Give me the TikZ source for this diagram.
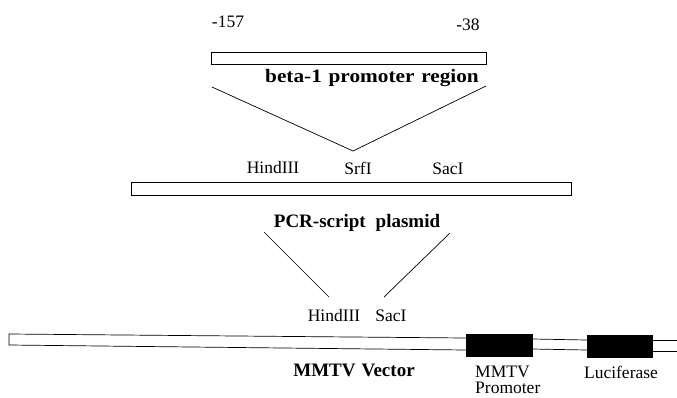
\documentclass[tikz,border=0pt]{standalone}
\usepackage{graphicx}
\usepackage{fontspec}
\setmainfont{Liberation Serif}
\begin{document}
\begin{tikzpicture}[x=1pt,y=-1pt,
  lab/.style={inner sep=0pt, font=\fontsize{17.5}{19}\selectfont},
  blab/.style={inner sep=0pt, font=\fontsize{19}{21}\selectfont\bfseries},
  openbar/.style={draw, line width=0.8pt, fill=white},
  gene/.style={draw, fill=black},
  ln/.style={line width=0.7pt}]
\useasboundingbox (0,0) rectangle (677,397);

% beta-1 promoter fragment
\node[lab] (m157) at (228,22) {-157};
\node[lab] (m38) at (468,25) {-38};
\node[openbar, minimum width=275pt, minimum height=12pt, inner sep=0pt] (frag) at (349,58) {};
\node[blab] (fraglab) at (372,78) {\scalebox{1.12}[1]{beta-1\hspace{6pt}promoter\hspace{6pt}region}};
\coordinate (fl) at (212,87);
\coordinate (fr) at (486,86);
\coordinate (fv) at (353,151);
\draw[ln] (fl) -- (fv) -- (fr);

% PCR-script plasmid
\node[lab] (hind1) at (273,168) {HindIII};
\node[lab] (srf) at (358,168) {SrfI};
\node[lab] (sac1) at (448,169) {SacI};
\node[openbar, minimum width=440pt, minimum height=13pt, inner sep=0pt] (pcr) at (351.5,189) {};
\node[blab] (pcrlab) at (357,223) {PCR-script\hspace{10pt}plasmid};
\coordinate (pl) at (264,232);
\coordinate (pr) at (450,233);
\coordinate (pbl) at (329,297);
\coordinate (pbr) at (384,297);
\draw[ln] (pl) -- (pbl);
\draw[ln] (pr) -- (pbr);
\node[lab] (hind2) at (334,316) {HindIII};
\node[lab] (sac2) at (391,316) {SacI};

% MMTV vector
\draw[ln, fill=white] (466,338) -- (9,334) -- (9,345) -- (466,350);
\node[gene, minimum width=66pt, minimum height=22pt, inner sep=0pt] (prom) at (499,345) {};
\node[gene, minimum width=65pt, minimum height=22pt, inner sep=0pt] (luc) at (619.5,346) {};
\draw[ln] (prom.east |- 0,339) -- (luc.west |- 0,340);
\draw[ln] (prom.east |- 0,349) -- (luc.west |- 0,350);
\coordinate (endt) at (677,340);
\coordinate (endb) at (677,351);
\draw[ln] (luc.east |- endt) -- (endt);
\draw[ln] (luc.east |- endb) -- (endb);
\node[blab] (veclab) at (354,370) {MMTV\hspace{6pt}Vector};
\node[lab, anchor=base west] (promlab1) at (475,377) {MMTV};
\node[lab, anchor=base west] (promlab2) at (475,393) {Promoter};
\node[lab] (luclab) at (621,372) {Luciferase};
\end{tikzpicture}
\end{document}
